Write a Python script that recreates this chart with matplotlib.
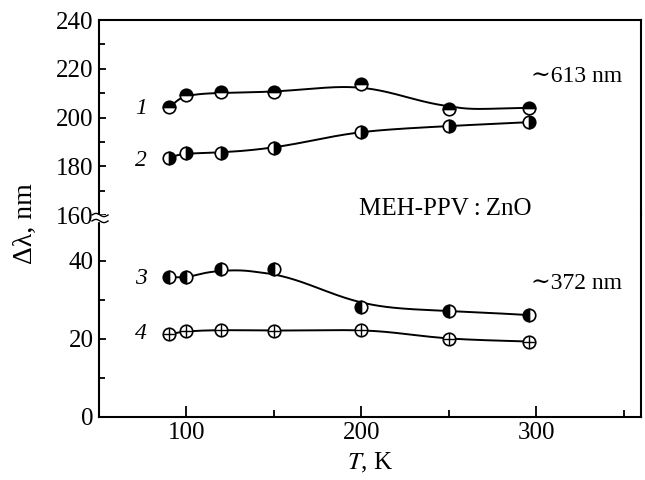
import numpy as np
import matplotlib
matplotlib.use("Agg")
import matplotlib.pyplot as plt
from matplotlib.lines import Line2D
from matplotlib.patches import Rectangle
from matplotlib.ticker import FixedLocator

plt.rcParams['font.family'] = ['Liberation Serif', 'DejaVu Serif']
plt.rcParams['mathtext.fontset'] = 'stix'

# temperatures, K
T1 = [90, 100, 120, 150, 200, 250, 296]
T2 = [90, 100, 120, 150, 200, 250, 296]
T3 = [90, 100, 120, 150, 200, 250, 296]
T4 = [90, 100, 120, 150, 200, 250, 296]

# line widths, nm
dl1 = [204.2, 209.1, 210.3, 210.3, 213.9, 203.3, 204.0]   # ~613 nm
dl2 = [183.5, 185.3, 185.6, 187.6, 194.2, 196.5, 198.1]   # ~613 nm
dl3 = [35.8, 35.8, 37.9, 37.9, 28.1, 27.2, 26.1]          # ~372 nm
dl4 = [21.2, 21.9, 22.3, 22.1, 22.3, 20.0, 19.3]          # ~372 nm


def pchip(x, y, xs):
    # monotone cubic through the measured points
    x = np.asarray(x, float)
    y = np.asarray(y, float)
    h = np.diff(x)
    d = np.diff(y) / h
    m = np.zeros_like(y)
    m[0], m[-1] = d[0], d[-1]
    for k in range(1, len(x) - 1):
        if d[k - 1] * d[k] > 0:
            w1 = 2 * h[k] + h[k - 1]
            w2 = h[k] + 2 * h[k - 1]
            m[k] = (w1 + w2) / (w1 / d[k - 1] + w2 / d[k])
    i = np.clip(np.searchsorted(x, xs) - 1, 0, len(x) - 2)
    t = (xs - x[i]) / h[i]
    h00 = 2 * t**3 - 3 * t**2 + 1
    h10 = t**3 - 2 * t**2 + t
    h01 = -2 * t**3 + 3 * t**2
    h11 = t**3 - t**2
    return h00 * y[i] + h10 * h[i] * m[i] + h01 * y[i + 1] + h11 * h[i] * m[i + 1]


def smooth_curve(x, y, sigma=12.0, n=600):
    # guide-to-the-eye: cubic through points, then a gaussian smoothing
    # whose width shrinks to zero at the ends
    xs = np.linspace(x[0], x[-1], n)
    ys = pchip(x, y, xs)
    out = np.empty_like(ys)
    for k, xv in enumerate(xs):
        s = min(sigma, (xv - x[0]) / 2.5, (x[-1] - xv) / 2.5)
        if s < 1e-6:
            out[k] = ys[k]
            continue
        w = np.exp(-0.5 * ((xs - xv) / s) ** 2)
        out[k] = np.sum(w * ys) / np.sum(w)
    return xs, out


fig = plt.figure(figsize=(6.45, 4.8), dpi=100)
L, R, B, MID, TOP = 0.1535, 0.9938, 0.1319, 0.552, 0.9583
ax_hi = fig.add_axes([L, MID, R - L, TOP - MID])
ax_lo = fig.add_axes([L, B, R - L, MID - B])

lw = 1.4
ms = 9


def curve(ax, x, y, sigma=12.0):
    xs, ys = smooth_curve(x, y, sigma)
    ax.plot(xs, ys, color='black', lw=lw, zorder=2)


curve(ax_hi, T1, dl1, sigma=18.0)
ax_hi.plot(T1, dl1, ls='none', marker='o', ms=ms, fillstyle='top',
           markerfacecolor='black', markerfacecoloralt='white',
           markeredgecolor='black', mew=1.2, zorder=3)
curve(ax_hi, T2, dl2)
ax_hi.plot(T2, dl2, ls='none', marker='o', ms=ms, fillstyle='right',
           markerfacecolor='black', markerfacecoloralt='white',
           markeredgecolor='black', mew=1.2, zorder=3)

curve(ax_lo, T3, dl3, sigma=20.0)
ax_lo.plot(T3, dl3, ls='none', marker='o', ms=ms, fillstyle='left',
           markerfacecolor='black', markerfacecoloralt='white',
           markeredgecolor='black', mew=1.2, zorder=3)
curve(ax_lo, T4, dl4)
ax_lo.plot(T4, dl4, ls='none', marker='o', ms=ms, markerfacecolor='white',
           markeredgecolor='black', mew=1.2, zorder=3)
ax_lo.plot(T4, dl4, ls='none', marker='+', ms=ms - 1, color='black',
           mew=1.0, zorder=4)

for ax in (ax_hi, ax_lo):
    ax.set_xlim(50, 360)
    for s in ax.spines.values():
        s.set_linewidth(1.5)
    ax.tick_params(direction='in', width=1.3, labelsize=18, pad=4)
    ax.tick_params(which='minor', direction='in', width=1.3)
    ax.tick_params(axis='y', which='major', length=5)
    ax.tick_params(axis='y', which='minor', length=4)

ax_hi.set_ylim(160, 240)
ax_hi.yaxis.set_major_locator(FixedLocator([160, 180, 200, 220, 240]))
ax_hi.yaxis.set_minor_locator(FixedLocator([170, 190, 210, 230]))
ax_hi.spines['bottom'].set_visible(False)
ax_hi.set_xticks([])
ax_hi.tick_params(axis='x', which='both', bottom=False, labelbottom=False)

ax_lo.set_ylim(0, 51.8)
ax_lo.yaxis.set_major_locator(FixedLocator([0, 20, 40]))
ax_lo.yaxis.set_minor_locator(FixedLocator([10, 30]))
ax_lo.spines['top'].set_visible(False)
ax_lo.xaxis.set_major_locator(FixedLocator([100, 200, 300]))
ax_lo.xaxis.set_minor_locator(FixedLocator([150, 250, 350]))
ax_lo.tick_params(axis='x', which='major', length=8)
ax_lo.tick_params(axis='x', which='minor', length=5)

# curve numbers
for ax, y, s in [(ax_hi, 203.5, '1'), (ax_hi, 182.4, '2'),
                 (ax_lo, 35.6, '3'), (ax_lo, 21.3, '4')]:
    ax.text(74, y, s, fontsize=17, style='italic', ha='center', va='center')

ax_hi.text(323, 217, '∼613 nm', fontsize=17, ha='center', va='center')
ax_lo.text(323, 34.1, '∼372 nm', fontsize=17, ha='center', va='center')
ax_hi.text(248, 162.5, 'MEH-PPV\u2009:\u2009ZnO', fontsize=18,
           ha='center', va='center')

fig.text(0.04, 0.535, 'Δλ, nm', rotation=90, fontsize=20,
         ha='center', va='center')
fig.text((L + R) / 2, 0.035, r'$T$, K', fontsize=18, ha='center', va='center')

# axis break on the left spine
px = fig.transFigure.inverted()
def fp(x, y):
    return px.transform((x, y))

fig.add_artist(Rectangle(fp(96, 480 - 221), *(fp(7, 6) - fp(0, 0)),
                         transform=fig.transFigure, color='white', zorder=5))
wx = np.linspace(92, 108, 30)
for yc in (480 - 215, 480 - 221):
    wy = yc + 1.6 * np.sin((wx - 92) / 16 * 2 * np.pi)
    pts = px.transform(np.column_stack([wx, wy]))
    fig.add_artist(Line2D(pts[:, 0], pts[:, 1], transform=fig.transFigure,
                          color='black', lw=1.0, zorder=6))

fig.savefig('out.png', dpi=100)
